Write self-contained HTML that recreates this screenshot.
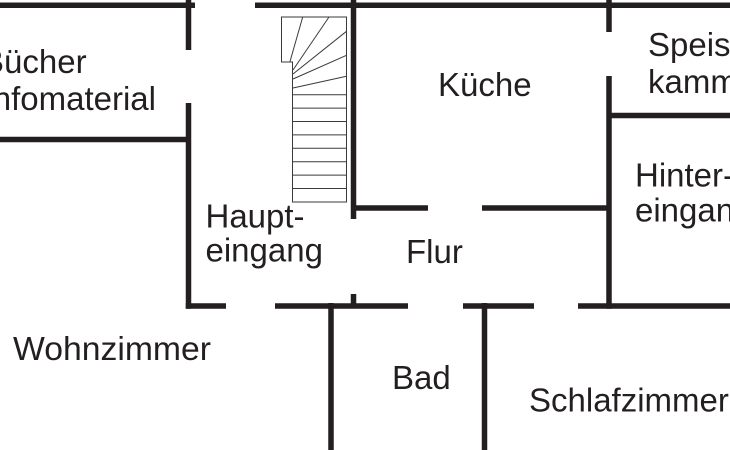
<!DOCTYPE html>
<html>
<head>
<meta charset="utf-8">
<style>
  html, body { margin: 0; padding: 0; background: #fff; }
  body { width: 730px; height: 450px; overflow: hidden; }
  svg { display: block; }
  text { font-family: "Liberation Sans", Arial, sans-serif; font-size: 33px; fill: #231f20; }
</style>
</head>
<body>
<svg width="730" height="450" viewBox="0 0 730 450" xmlns="http://www.w3.org/2000/svg">
  <rect width="730" height="450" fill="#fff"/>
  <g stroke="#231f20" stroke-width="5.5" stroke-linecap="butt" fill="none">
    <!-- top wall -->
    <line x1="0" y1="5.3" x2="195" y2="5.3"/>
    <line x1="255" y1="5.3" x2="730" y2="5.3"/>
    <!-- left vertical -->
    <line x1="188.5" y1="0" x2="188.5" y2="50"/>
    <line x1="188.5" y1="103" x2="188.5" y2="308.7"/>
    <line x1="0" y1="139.5" x2="188.5" y2="139.5"/>
    <line x1="185.8" y1="306" x2="226" y2="306"/>
    <!-- bottom walls -->
    <line x1="275" y1="306" x2="408" y2="306"/>
    <line x1="353.5" y1="294" x2="353.5" y2="306"/>
    <line x1="331" y1="303" x2="331" y2="450"/>
    <line x1="463" y1="306" x2="534" y2="306"/>
    <line x1="484.5" y1="303" x2="484.5" y2="450"/>
    <line x1="578" y1="306" x2="730" y2="306"/>
    <!-- stair wall -->
    <line x1="353.5" y1="0" x2="353.5" y2="219"/>
    <line x1="353.5" y1="208" x2="428" y2="208"/>
    <line x1="482" y1="208" x2="609" y2="208"/>
    <!-- right vertical -->
    <line x1="609" y1="0" x2="609" y2="32"/>
    <line x1="609" y1="76" x2="609" y2="308.7"/>
    <line x1="609" y1="115.5" x2="730" y2="115.5"/>
  </g>
  <!-- stairs -->
  <g stroke="#3a3a3a" stroke-width="1" fill="none">
    <polygon points="281.5,17 346.5,17 346.5,202 292.5,202 292.5,62 281.5,62"/>
    <line x1="302.7" y1="17" x2="290" y2="61.5"/>
    <line x1="329" y1="17" x2="293" y2="70"/>
    <line x1="346.5" y1="31.3" x2="293" y2="74"/>
    <line x1="346.5" y1="55.3" x2="293" y2="79"/>
    <line x1="346.5" y1="76.3" x2="293" y2="88"/>
    <line x1="292.5" y1="94.7" x2="346.5" y2="94.7"/>
    <line x1="292.5" y1="108.1" x2="346.5" y2="108.1"/>
    <line x1="292.5" y1="121.5" x2="346.5" y2="121.5"/>
    <line x1="292.5" y1="134.9" x2="346.5" y2="134.9"/>
    <line x1="292.5" y1="148.3" x2="346.5" y2="148.3"/>
    <line x1="292.5" y1="161.7" x2="346.5" y2="161.7"/>
    <line x1="292.5" y1="175.1" x2="346.5" y2="175.1"/>
    <line x1="292.5" y1="188.5" x2="346.5" y2="188.5"/>
  </g>
  <!-- labels -->
  <text x="-18" y="73">Bücher</text>
  <text x="156" y="110" text-anchor="end">Infomaterial</text>
  <text x="438" y="96">Küche</text>
  <text x="648" y="56">Speise-</text>
  <text x="648" y="93">kammer</text>
  <text x="635" y="186.5">Hinter-</text>
  <text x="635" y="221.5">eingang</text>
  <text x="205.5" y="227.5">Haupt-</text>
  <text x="205.5" y="261.5">eingang</text>
  <text x="406" y="263">Flur</text>
  <text x="13" y="360" textLength="198" lengthAdjust="spacingAndGlyphs">Wohnzimmer</text>
  <text x="392" y="389">Bad</text>
  <text x="529" y="411.5">Schlafzimmer</text>
</svg>
</body>
</html>
